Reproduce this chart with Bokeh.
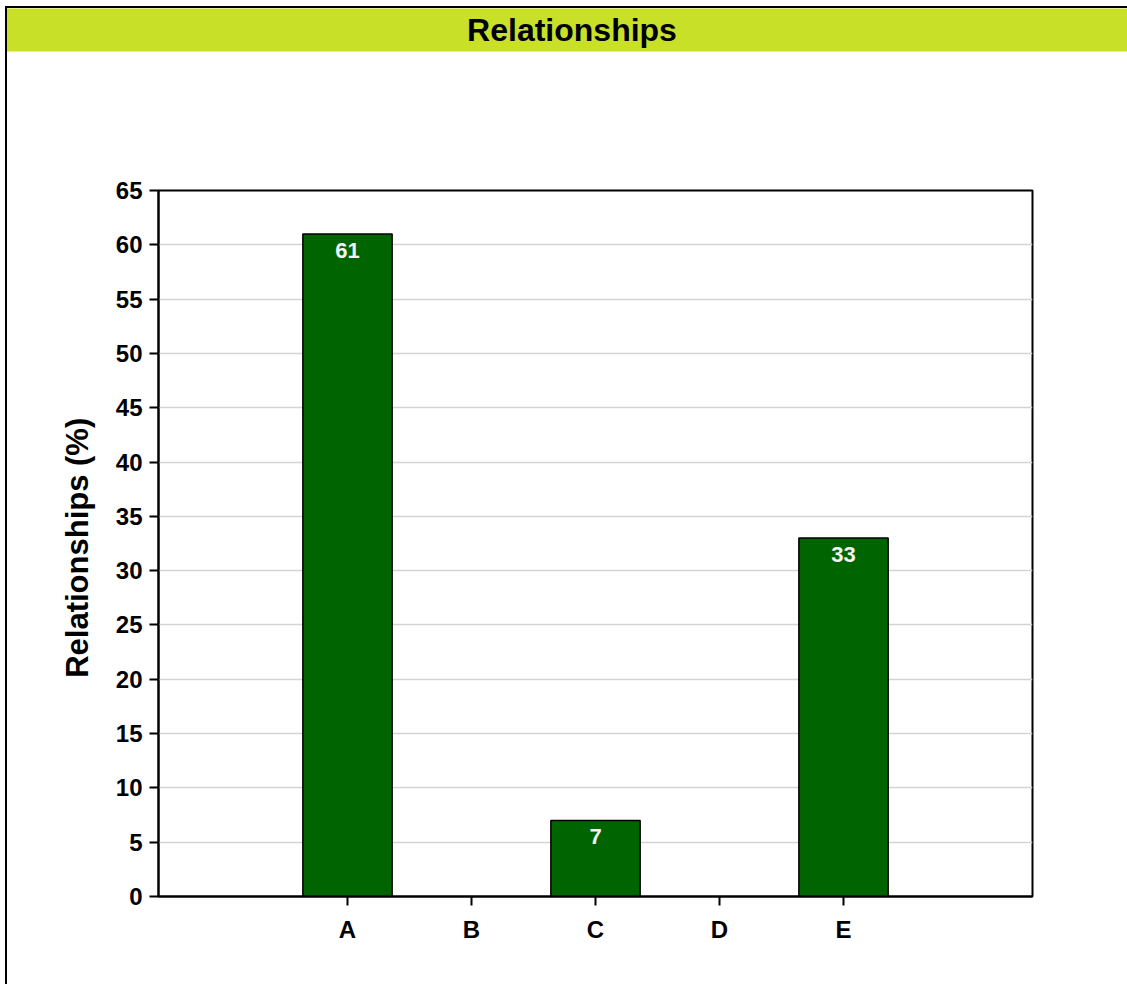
from bokeh.plotting import figure
from bokeh.models import ColumnDataSource, FactorRange, Div, SingleIntervalTicker
from bokeh.layouts import column
from bokeh.core.properties import value
from bokeh.embed import file_html
from bokeh.resources import INLINE

# chart data
categories = ["A", "B", "C", "D", "E"]
values = [61, 0, 7, 0, 33]
labels = ["61", "", "7", "", "33"]
title_text = "Relationships"
y_label = "Relationships  (%)"

FONT = "Liberation Sans"

bars = [c for c, v in zip(categories, values) if v > 0]
bar_vals = [v for v in values if v > 0]
bar_labels = [l for l, v in zip(labels, values) if v > 0]
src = ColumnDataSource(dict(cat=bars, val=bar_vals, lab=bar_labels))

header = Div(
    text=title_text,
    width=1120, height=44,
    margin=0,
    styles={
        "background-color": "#C8E028",
        "text-align": "center",
        "font-family": FONT,
        "font-weight": "bold",
        "font-size": "32px",
        "line-height": "42px",
        "padding-left": "10px",
        "color": "#000000",
        "border-top": "1px solid #e4f08a",
        "border-bottom": "1px solid #e4f08a",
        "box-sizing": "border-box",
    },
)

p = figure(
    x_range=FactorRange(*categories, range_padding=1.024, range_padding_units="absolute"),
    y_range=(0, 65),
    width=1120, height=932,
    margin=0,
    output_backend="svg", toolbar_location=None,
    min_border_left=151, min_border_right=95,
    min_border_top=138, min_border_bottom=88,
)

p.vbar(x="cat", top="val", width=0.72, source=src,
       fill_color="#006400", line_color="#000000", line_width=1.5)

p.text(x="cat", y="val", text="lab", source=src,
       text_align="center", text_baseline="top", y_offset=9,
       text_color="#f4f4f4", text_font=value(FONT),
       text_font_size="22px", text_font_style="bold")

# axes
p.yaxis.ticker = SingleIntervalTicker(interval=5)
p.yaxis.axis_label = y_label
p.yaxis.axis_label_text_font = FONT
p.yaxis.axis_label_text_font_size = "31px"
p.yaxis.axis_label_text_font_style = "bold"
p.yaxis.axis_label_text_color = "#000000"
p.yaxis.axis_label_standoff = 18
for ax in (p.xaxis, p.yaxis):
    ax.major_label_text_font = FONT
    ax.major_label_text_font_size = "24px"
    ax.major_label_text_font_style = "bold"
    ax.major_label_text_color = "#000000"
    ax.axis_line_width = 2
    ax.axis_line_color = "#000000"
    ax.major_tick_line_width = 2
    ax.major_tick_line_color = "#000000"
    ax.major_tick_in = 0
    ax.major_tick_out = 9
    ax.minor_tick_line_color = None
p.yaxis.major_label_standoff = 7
p.xaxis.major_label_standoff = 10

p.xgrid.grid_line_color = None
p.ygrid.grid_line_color = "#d4d4d4"
p.ygrid.grid_line_width = 1.5

p.outline_line_color = "#000000"
p.outline_line_width = 2
p.background_fill_color = "#ffffff"
p.border_fill_color = "#ffffff"

layout = column(
    header, p,
    margin=(6, 0, 0, 5),
    spacing=0,
    styles={"border-left": "2px solid #000000", "border-top": "2px solid #000000"},
)

open("out.html", "w").write(file_html(layout, INLINE))
